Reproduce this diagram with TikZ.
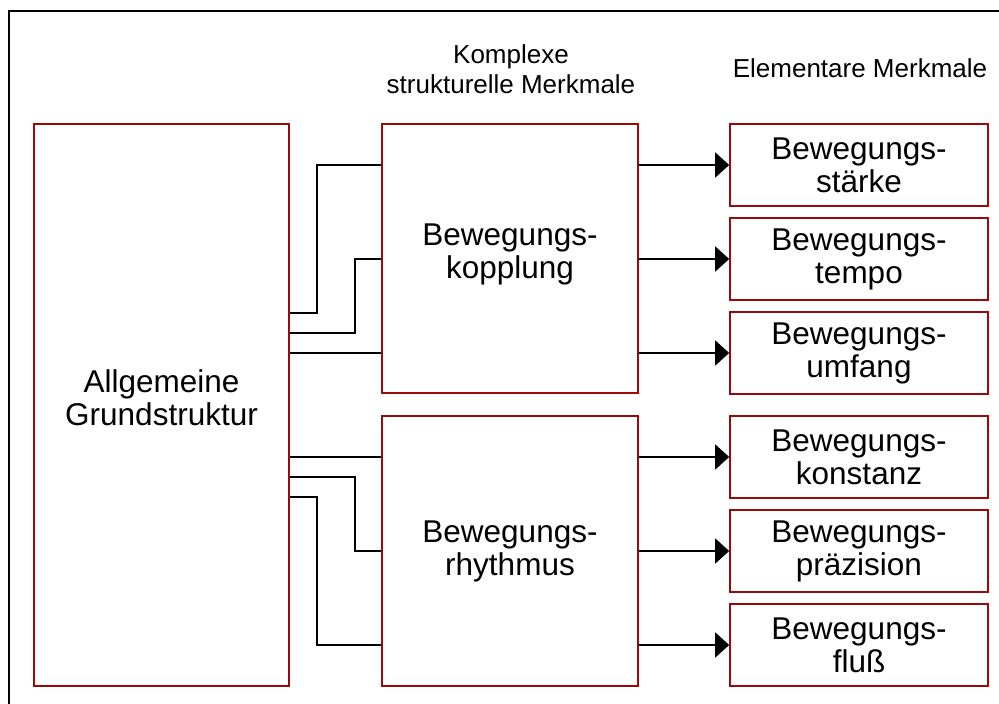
\documentclass[tikz,border=0pt]{standalone}
\usepackage{fontspec}
\setmainfont{Liberation Sans}
\usetikzlibrary{arrows.meta}
\definecolor{boxred}{RGB}{155,10,10}
\begin{document}
\begin{tikzpicture}[x=1pt,y=-1pt,
  boxtext/.style={align=center,font=\fontsize{31.5}{33}\selectfont},
  box/.style={draw=boxred,line width=1.6pt,rectangle,inner sep=0pt,boxtext},
  elem/.style={box,minimum width=258pt,minimum height=82pt},
  cplx/.style={box,minimum width=256pt,minimum height=270pt},
  wire/.style={line width=1.4pt,black},
  feed/.style={wire,-{Triangle[length=14pt,width=25pt]}},
  head/.style={font=\fontsize{26}{30}\selectfont,align=center,inner sep=0pt}]
\useasboundingbox (0,0) rectangle (999,704);
% outer frame
\draw[line width=2pt] (9,720) -- (9,11) -- (1010,11);

% headings (base anchor sits on the last line)
\node[head,anchor=base] (hk) at (511,93) {Komplexe\\strukturelle Merkmale};
\node[head,anchor=base] (he) at (860,77) {Elementare Merkmale};

% boxes
\node[box,minimum width=255pt,minimum height=562pt,
  label={[boxtext,yshift=7pt]center:Allgemeine\\Grundstruktur}] (gs) at (161.5,405) {};
\node[cplx,minimum height=269pt,
  label={[boxtext,yshift=4pt]center:Bewegungs-\\kopplung}] (kop) at (510,258.5) {};
\node[cplx] (rhy) at (510,551) {Bewegungs-\\rhythmus};

\node[elem] (e1) at (859,165) {Bewegungs-\\stärke};
\node[elem] (e2) at (859,259) {Bewegungs-\\tempo};
\node[elem] (e3) at (859,353) {Bewegungs-\\umfang};
\node[elem] (e4) at (859,457) {Bewegungs-\\konstanz};
\node[elem] (e5) at (859,551) {Bewegungs-\\präzision};
\node[elem] (e6) at (859,645) {Bewegungs-\\fluß};

% links from the general structure to the complex features
\draw[wire] (gs.east |- 0,313) -| (317,165) -- (kop.west |- 0,165);
\draw[wire] (gs.east |- 0,333) -| (355,259) -- (kop.west |- 0,259);
\draw[wire] (gs.east |- 0,353) -- (kop.west |- 0,353);
\draw[wire] (gs.east |- 0,457) -- (rhy.west |- 0,457);
\draw[wire] (gs.east |- 0,477) -| (355,551) -- (rhy.west |- 0,551);
\draw[wire] (gs.east |- 0,497) -| (317,645) -- (rhy.west |- 0,645);

% arrows to the elementary features
\foreach \e/\s in {e1/kop,e2/kop,e3/kop,e4/rhy,e5/rhy,e6/rhy}
  \draw[feed] (\s.east |- \e.west) -- (\e.west);
\end{tikzpicture}
\end{document}
